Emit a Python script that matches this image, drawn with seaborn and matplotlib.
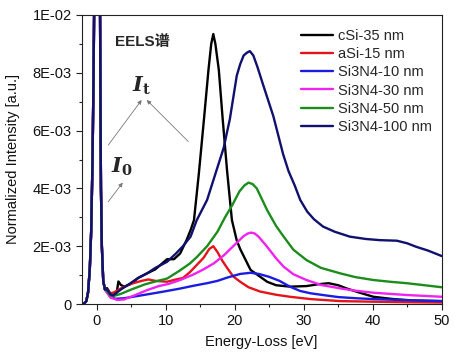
import numpy as np
import pandas as pd
import matplotlib
matplotlib.use("Agg")
import matplotlib.pyplot as plt
import seaborn as sns

# ---------------- data ----------------
series_names = ["cSi-35 nm", "aSi-15 nm", "Si3N4-10 nm", "Si3N4-30 nm", "Si3N4-50 nm", "Si3N4-100 nm"]
series_colors = ["#000000", "#e3141b", "#1c1ce0", "#f022f0", "#1c8c1c", "#10106e"]

# shared zero-loss peak (goes off scale)
zlp_energy = [-2.2, -1.8, -1.5, -1.25, -1.0, -0.8, -0.6, -0.45, -0.3, 0.05, 0.45, 0.55, 0.62, 0.75, 0.95, 1.2]
zlp_values = [0.0, 0.00002, 0.0001, 0.0004, 0.0012, 0.0025, 0.005, 0.008, 0.012, 0.04, 0.012, 0.007, 0.004, 0.002, 0.0008, 0.0005]

csi_energy = [1.5, 2.0, 2.4, 2.9, 3.15, 3.5, 4.0, 5.0, 6.0, 7.3, 8.5, 10.2, 11.2, 12.1, 13.0, 13.6, 14.1, 14.8,
              15.55, 16.2, 16.6, 16.9, 17.2, 17.7, 18.26, 18.9, 19.6, 20.3, 20.8, 22.3, 24.7, 26.0, 28.0, 30.4,
              32.0, 33.6, 35.0, 36.2, 38.0, 40.1, 43.0, 46.0, 50.0]
csi_values = [0.00055, 0.00035, 0.0003, 0.0004, 0.00078, 0.00066, 0.0006, 0.0007, 0.0009, 0.00106, 0.0012, 0.00155,
              0.00155, 0.00175, 0.0022, 0.00255, 0.0029, 0.0045, 0.0064, 0.0081, 0.009, 0.00934, 0.009, 0.0081,
              0.0064, 0.0046, 0.0029, 0.0022, 0.0019, 0.00118, 0.00077, 0.00065, 0.0006, 0.00062, 0.00068,
              0.00072, 0.00065, 0.00054, 0.0004, 0.00025, 0.00017, 0.00012, 0.0001]

asi_energy = [1.5, 1.9, 2.5, 3.5, 5.0, 6.5, 7.5, 8.5, 10.2, 11.5, 12.5, 13.5, 14.5, 15.5, 16.3, 16.9, 17.5, 18.2,
              18.9, 19.8, 20.8, 22.0, 23.7, 26.0, 28.0, 31.0, 35.3, 40.0, 45.0, 50.0]
asi_values = [0.0005, 0.00037, 0.0004, 0.00054, 0.0007, 0.0008, 0.00085, 0.0008, 0.00077, 0.00085, 0.0009, 0.0011,
              0.00135, 0.0016, 0.0019, 0.002, 0.0018, 0.0015, 0.00125, 0.00095, 0.00077, 0.00058, 0.00043,
              0.00032, 0.00025, 0.00017, 0.0001, 0.00008, 0.00006, 0.00005]

n10_energy = [1.5, 2.0, 2.7, 4.0, 6.0, 8.0, 9.7, 12.0, 14.0, 16.0, 17.5, 19.0, 20.8, 22.3, 23.5, 25.0, 26.5, 28.0,
              29.5, 31.0, 32.8, 35.0, 37.5, 40.1, 45.0, 50.0]
n10_values = [0.0004, 0.00025, 0.00018, 0.0002, 0.00028, 0.00036, 0.00043, 0.00053, 0.00063, 0.00072, 0.0008,
              0.00092, 0.00104, 0.00108, 0.00104, 0.00094, 0.0008, 0.0006, 0.00045, 0.00037, 0.00031, 0.00024,
              0.0002, 0.00017, 0.00013, 0.0001]

n30_energy = [1.5, 2.0, 3.0, 4.0, 5.5, 7.3, 9.0, 10.5, 12.1, 14.0, 15.5, 17.0, 18.5, 20.0, 21.3, 21.9, 22.4, 22.9,
              23.5, 24.7, 26.0, 27.1, 28.5, 30.4, 32.5, 35.3, 37.5, 40.1, 45.0, 50.0]
n30_values = [0.0004, 0.00022, 0.00014, 0.00016, 0.0003, 0.00048, 0.00062, 0.0007, 0.00083, 0.00102, 0.0012,
              0.00141, 0.0017, 0.00205, 0.00235, 0.00244, 0.00247, 0.00244, 0.00232, 0.00198, 0.00158, 0.00129,
              0.00103, 0.00083, 0.00066, 0.00054, 0.00046, 0.00039, 0.00031, 0.00025]

n50_energy = [1.5, 2.0, 2.5, 3.5, 5.0, 7.0, 8.5, 10.2, 12.0, 13.5, 14.5, 16.0, 17.5, 18.6, 19.6, 20.7, 21.4, 22.0,
              22.6, 23.2, 23.8, 24.7, 26.0, 27.1, 28.5, 30.4, 32.5, 35.3, 37.5, 40.1, 42.5, 44.9, 47.5, 50.0]
n50_values = [0.00045, 0.0003, 0.00028, 0.00035, 0.0005, 0.00068, 0.00078, 0.00088, 0.00115, 0.0014, 0.00162,
              0.002, 0.0025, 0.003, 0.0034, 0.0039, 0.0041, 0.0042, 0.00415, 0.0040, 0.0037, 0.00325, 0.0027,
              0.00233, 0.00188, 0.00152, 0.00125, 0.00106, 0.00093, 0.00083, 0.00077, 0.00072, 0.00065, 0.00058]

n100_energy = [1.5, 2.0, 2.4, 3.5, 4.9, 6.0, 7.3, 8.5, 10.2, 11.5, 12.5, 13.6, 14.5, 16.0, 17.2, 18.4, 19.3, 20.3,
               20.8, 21.3, 21.8, 22.2, 22.7, 23.3, 24.1, 25.6, 27.0, 27.8, 28.7, 29.5, 30.5, 31.5, 32.8, 34.5,
               36.7, 39.0, 41.0, 43.5, 45.0, 46.3, 48.0, 50.0]
n100_values = [0.0005, 0.00033, 0.0003, 0.0005, 0.00072, 0.0009, 0.00106, 0.00125, 0.00146, 0.00175, 0.002,
               0.00233, 0.0029, 0.0036, 0.0045, 0.0054, 0.0064, 0.0079, 0.0083, 0.0086, 0.0087, 0.00875, 0.0086,
               0.0082, 0.0076, 0.0065, 0.0052, 0.0046, 0.0041, 0.0036, 0.0032, 0.00293, 0.00268, 0.0025,
               0.00233, 0.00225, 0.00221, 0.00219, 0.0021, 0.00198, 0.00185, 0.00166]

series_energy = [csi_energy, asi_energy, n10_energy, n30_energy, n50_energy, n100_energy]
series_values = [csi_values, asi_values, n10_values, n30_values, n50_values, n100_values]

x_ticks = [0, 10, 20, 30, 40, 50]
y_ticks = [0, 0.002, 0.004, 0.006, 0.008, 0.010]
y_tick_labels = ["0", "2E-03", "4E-03", "6E-03", "8E-03", "1E-02"]

# ---------------- build table ----------------
frames = []
for name, e, v in zip(series_names, series_energy, series_values):
    frames.append(pd.DataFrame({"Energy": zlp_energy + e, "Intensity": zlp_values + v, "Sample": name}))
df = pd.concat(frames, ignore_index=True)

# ---------------- style ----------------
sns.set_theme(style="ticks")
plt.rcParams["font.family"] = ["Liberation Sans", "Noto Sans CJK SC", "DejaVu Sans"]
plt.rcParams["mathtext.fontset"] = "dejavuserif"

fig = plt.figure(figsize=(4.54, 3.6), dpi=100)
ax = fig.add_axes([81.5 / 454, 1 - 304 / 360, (441.7 - 81.5) / 454, (304 - 15) / 360])

palette = dict(zip(series_names, series_colors))
sns.lineplot(data=df, x="Energy", y="Intensity", hue="Sample", hue_order=series_names,
             palette=palette, estimator=None, sort=False, linewidth=1.7, ax=ax)

ax.set_xlim(-2.2, 50)
ax.set_ylim(0, 0.01)
ax.set_xticks(x_ticks)
ax.set_xticks([5, 15, 25, 35, 45], minor=True)
ax.set_yticks(y_ticks)
ax.set_yticklabels(y_tick_labels)
ax.set_yticks([0.001, 0.003, 0.005, 0.007, 0.009], minor=True)
ax.tick_params(which="major", direction="out", length=4, width=0.8, labelsize=10.5, pad=3,
               color="#222222", labelcolor="#111111")
ax.tick_params(which="minor", direction="out", length=2.5, width=0.8, color="#222222")
for s in ax.spines.values():
    s.set_visible(True)
    s.set_linewidth(0.8)
    s.set_color("#222222")

ax.set_xlabel("Energy-Loss [eV]", fontsize=10.5, labelpad=5, color="#111111")
ax.set_ylabel("Normalized Intensity [a.u.]", fontsize=10.5, labelpad=9, color="#111111")

handles, labels = ax.get_legend_handles_labels()
for h in handles:
    h.set_linewidth(1.7)
ax.legend(handles, labels, loc="upper left", bbox_to_anchor=(0.61, 0.952), frameon=False,
          fontsize=10.5, handlelength=2.2, handletextpad=0.35, labelspacing=0.29,
          borderpad=0, borderaxespad=0)

# annotations
ax.text(2.65, 0.00905, "EELS谱", fontsize=11, fontweight="bold", ha="left", va="center")
ax.text(6.5, 0.00756, r"$\mathbfit{I}_{\mathbf{t}}$", fontsize=15, ha="center", va="center")
ax.text(3.6, 0.00474, r"$\mathbfit{I}_{\mathbf{0}}$", fontsize=15, ha="center", va="center")
arrow_kw = dict(arrowstyle="-|>", color="#777777", lw=0.6, mutation_scale=6, shrinkA=0, shrinkB=0)
ax.annotate("", xy=(6.52, 0.00706), xytext=(1.68, 0.0055), arrowprops=arrow_kw)
ax.annotate("", xy=(7.25, 0.00706), xytext=(13.28, 0.00562), arrowprops=arrow_kw)
ax.annotate("", xy=(3.77, 0.0042), xytext=(1.68, 0.00354), arrowprops=arrow_kw)

fig.savefig("out.png", dpi=100)
